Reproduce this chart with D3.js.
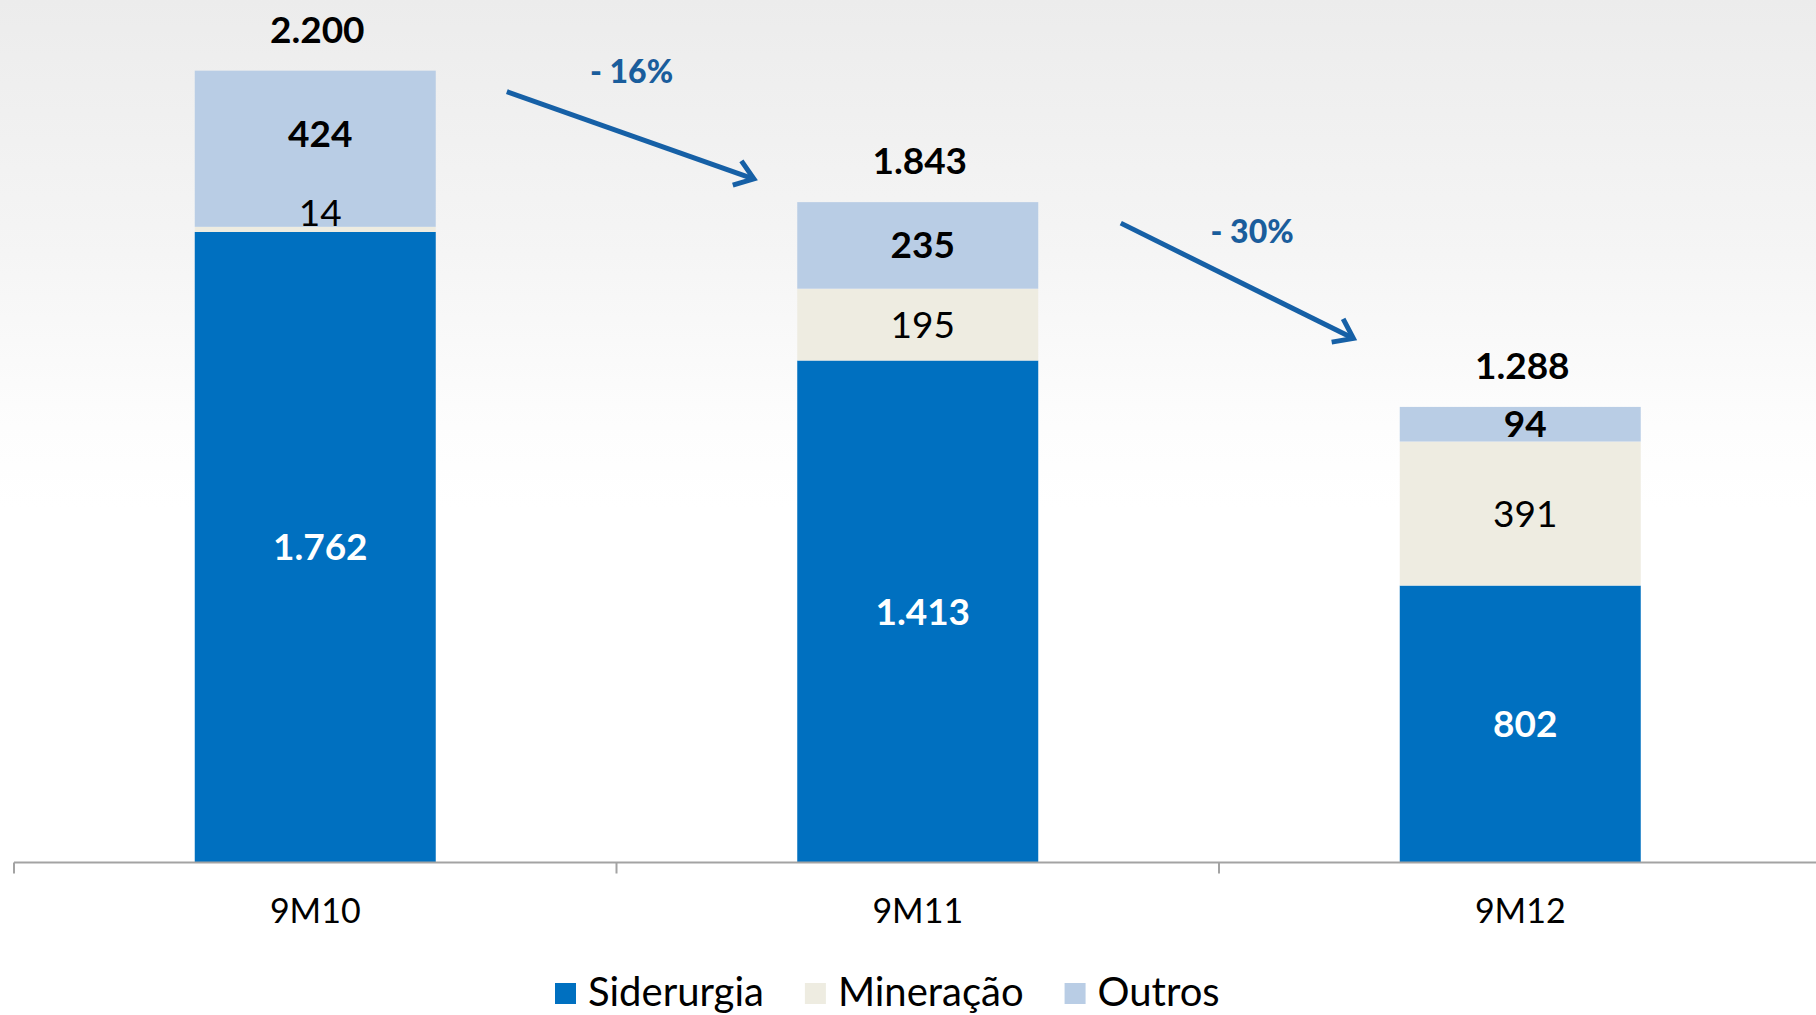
<!DOCTYPE html>
<html>
<head>
<meta charset="utf-8">
<script src="https://cdn.jsdelivr.net/npm/d3@7"></script>
<style>
    html, body { margin: 0; padding: 0; background: #ffffff; }
    svg { display: block; font-family: Lato, "Open Sans", sans-serif; }
</style>
</head>
<body>
<svg id="chart"></svg>
<script>
// Chart data
const categories = ["9M10", "9M11", "9M12"];
const seriesNames = ["Siderurgia", "Mineração", "Outros"];
const siderurgia = [1762, 1413, 802];
const mineracao = [14, 195, 391];
const outros = [424, 235, 94];
const totals = [2200, 1843, 1288];
const trendLabels = ["- 16%", "- 30%"];

// SVG dimensions
let width = 1816, height = 1015;

// Series colours and label styles
const colors = { "Siderurgia": "#0070C0", "Mineração": "#EEECE1", "Outros": "#B9CDE5" };
const labelFill = { "Siderurgia": "#ffffff", "Mineração": "#000000", "Outros": "#000000" };
const labelWeight = { "Siderurgia": "bold", "Mineração": "normal", "Outros": "bold" };
// small manual nudges (px) for labels that would overlap
const labelNudge = { "Outros": [-15, 0, 0], "Mineração": [-16, 0, 0] };

// Trend arrows: category-index units along x, values along y
const trendArrows = [
    { x0: 0.318, v0: 2143, x1: 0.728, v1: 1906, lx: 0.525, lv: 2196 },
    { x0: 1.337, v0: 1786, x1: 1.723, v1: 1473, lx: 1.555, lv: 1763 }
];

// pt-BR number format (dot as thousands separator)
const fmt = d3.formatLocale({ decimal: ",", thousands: ".", grouping: [3], currency: ["R$", ""] }).format(",d");

let svg = d3.select('#chart').attr('width', width).attr('height', height);

// Background gradient
let defs = svg.append('defs');
let grad = defs.append('linearGradient').attr('id', 'bg').attr('x1', 0).attr('y1', 0).attr('x2', 0).attr('y2', 1);
grad.append('stop').attr('offset', '0%').attr('stop-color', '#ececec');
grad.append('stop').attr('offset', '25%').attr('stop-color', '#f5f5f5');
grad.append('stop').attr('offset', '42%').attr('stop-color', '#fdfdfd');
grad.append('stop').attr('offset', '50%').attr('stop-color', '#ffffff');
svg.append('rect').attr('width', width).attr('height', height).attr('fill', 'url(#bg)');

// Build rows and stack
const rows = categories.map((c, i) => ({
    cat: c,
    "Siderurgia": siderurgia[i],
    "Mineração": mineracao[i],
    "Outros": outros[i]
}));
const stacked = d3.stack().keys(seriesNames)(rows);

// Scales
let x = d3.scaleBand()
    .domain(categories)
    .range([14, 1821.5])
    .paddingInner(0.6)
    .paddingOuter(0.3);

let y = d3.scaleLinear()
    .domain([50, 2400])
    .range([862.5, -3])
    .clamp(true);

// index-based linear scale for annotations
let xi = d3.scaleLinear()
    .domain([0, categories.length - 1])
    .range([x(categories[0]) + x.bandwidth() / 2, x(categories[categories.length - 1]) + x.bandwidth() / 2]);

// Bars
let layers = svg.append('g').selectAll('g')
    .data(stacked)
    .enter()
    .append('g')
    .attr('fill', (d) => colors[d.key]);

layers.selectAll('rect')
    .data((d) => d)
    .enter()
    .append('rect')
    .attr('x', (d) => x(d.data.cat))
    .attr('width', x.bandwidth())
    .attr('y', (d) => y(d[1]))
    .attr('height', (d) => y(d[0]) - y(d[1]));

// Segment labels
stacked.forEach((layer) => {
    svg.append('g').selectAll('text')
        .data(layer)
        .enter()
        .append('text')
        .attr('x', (d) => x(d.data.cat) + x.bandwidth() / 2 + 5)
        .attr('y', (d, i) => (y(d[0]) + y(d[1])) / 2 + 13 + (labelNudge[layer.key] ? labelNudge[layer.key][i] : 0))
        .attr('text-anchor', 'middle')
        .attr('font-size', 37)
        .attr('font-weight', labelWeight[layer.key])
        .attr('fill', labelFill[layer.key])
        .text((d) => fmt(d[1] - d[0]));
});

// Totals above bars
svg.append('g').selectAll('text')
    .data(categories)
    .enter()
    .append('text')
    .attr('x', (d) => x(d) + x.bandwidth() / 2 + 2)
    .attr('y', (d, i) => y(totals[i]) - 28)
    .attr('text-anchor', 'middle')
    .attr('font-size', 37)
    .attr('font-weight', 'bold')
    .attr('fill', '#000')
    .text((d, i) => fmt(totals[i]));

// Category axis
let axisY = y(50);
let xAxis = d3.axisBottom(x).tickSize(0).tickPadding(36);
let gx = svg.append('g')
    .attr('transform', `translate(0, ${axisY})`)
    .call(xAxis);
gx.select('.domain').remove();
gx.selectAll('text')
    .attr('font-size', 34)
    .attr('font-family', 'Lato, "Open Sans", sans-serif')
    .attr('fill', '#000');

svg.append('line')
    .attr('x1', 14).attr('x2', width)
    .attr('y1', axisY).attr('y2', axisY)
    .attr('stroke', '#a3a3a3')
    .attr('stroke-width', 2);

const bounds = categories.map((c) => x(c) - x.step() * x.paddingOuter());
svg.append('g').selectAll('line')
    .data(bounds)
    .enter()
    .append('line')
    .attr('x1', (d) => d).attr('x2', (d) => d)
    .attr('y1', axisY).attr('y2', axisY + 11)
    .attr('stroke', '#a3a3a3')
    .attr('stroke-width', 2);

// Trend arrows
const arrowColor = '#1660A6';
trendArrows.forEach((a, i) => {
    let sx = xi(a.x0), sy = y(a.v0), ex = xi(a.x1), ey = y(a.v1);
    let ang = Math.atan2(ey - sy, ex - sx);
    let arm = 22, spread = Math.PI / 5;
    svg.append('line')
        .attr('x1', sx).attr('y1', sy)
        .attr('x2', ex - Math.cos(ang) * 2).attr('y2', ey - Math.sin(ang) * 2)
        .attr('stroke', arrowColor)
        .attr('stroke-width', 5);
    let p1 = [ex - arm * Math.cos(ang - spread), ey - arm * Math.sin(ang - spread)];
    let p2 = [ex - arm * Math.cos(ang + spread), ey - arm * Math.sin(ang + spread)];
    svg.append('path')
        .attr('d', d3.line()([p1, [ex, ey], p2]))
        .attr('fill', 'none')
        .attr('stroke', arrowColor)
        .attr('stroke-width', 5)
        .attr('stroke-linejoin', 'miter');
    svg.append('text')
        .attr('x', xi(a.lx))
        .attr('y', y(a.lv) + 11)
        .attr('text-anchor', 'middle')
        .attr('font-size', 32)
        .attr('font-weight', 900)
        .attr('fill', '#1a5d9c')
        .text(trendLabels[i]);
});

// Legend
let legend = svg.append('g').attr('transform', 'translate(555, 983)');
let lx = 0;
seriesNames.forEach((name) => {
    let item = legend.append('g').attr('transform', `translate(${lx}, 0)`);
    item.append('rect')
        .attr('width', 21).attr('height', 21)
        .attr('fill', colors[name]);
    let t = item.append('text')
        .attr('x', 33)
        .attr('y', 23)
        .attr('font-size', 40)
        .attr('fill', '#000')
        .text(name);
    lx += 33 + t.node().getComputedTextLength() + 41;
});
</script>
</body>
</html>
